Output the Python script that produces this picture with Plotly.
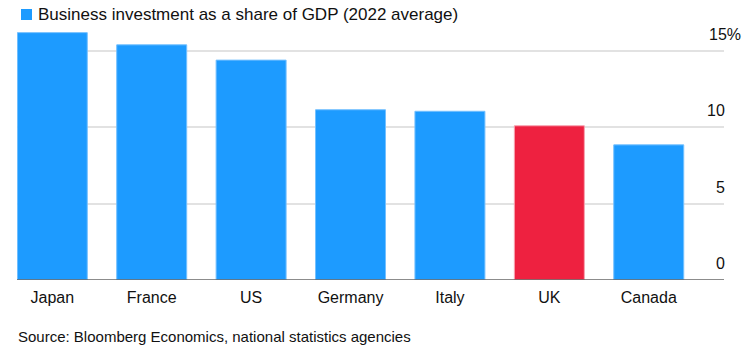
import plotly.graph_objects as go

countries = ["Japan", "France", "US", "Germany", "Italy", "UK", "Canada"]
values = [16.2, 15.4, 14.4, 11.15, 11.05, 10.1, 8.85]
bar_colors = ["#1D9BFF", "#1D9BFF", "#1D9BFF", "#1D9BFF", "#1D9BFF", "#EE2140", "#1D9BFF"]
edge_colors = ["#74C0FF", "#74C0FF", "#74C0FF", "#74C0FF", "#74C0FF", "#F7A3B0", "#74C0FF"]
y_tick_vals = [0, 5, 10, 15]
y_tick_text = ["0", "5", "10", "15%"]
legend_label = "Business investment as a share of GDP (2022 average)"
source_text = "Source: Bloomberg Economics, national statistics agencies"

W, H = 751, 362
L, R, T, B = 17, 27, 25, 82
pw, ph = W - L - R, H - T - B
FONT = "Liberation Sans, Arial, sans-serif"

def px_x(x):
    return (x - L) / pw

def px_y(y):
    return (H - B - y) / ph

fig = go.Figure()
fig.add_trace(go.Bar(
    x=countries, y=values,
    marker=dict(color=bar_colors, line=dict(color=edge_colors, width=1)),
    showlegend=False,
))

annotations = []
for v, t in zip(y_tick_vals, y_tick_text):
    # numbers right-aligned at x=725; a trailing "%" hangs past that edge
    if t.endswith("%"):
        annotations.append(dict(x=px_x(709), xref="paper", y=v, yref="y", text=t,
                                showarrow=False, xanchor="left", yanchor="bottom",
                                yshift=6, xshift=-2, font=dict(family=FONT, size=16, color="#111")))
    else:
        annotations.append(dict(x=px_x(725), xref="paper", y=v, yref="y", text=t,
                                showarrow=False, xanchor="right", yanchor="bottom",
                                yshift=6, xshift=2, font=dict(family=FONT, size=16, color="#111")))
annotations.append(dict(x=px_x(36), xref="paper", y=px_y(14.5), yref="paper",
                        text=legend_label, showarrow=False, xanchor="left", yanchor="middle",
                        font=dict(family=FONT, size=17, color="#111")))
annotations.append(dict(x=px_x(16), xref="paper", y=px_y(336), yref="paper",
                        text=source_text, showarrow=False, xanchor="left", yanchor="middle",
                        font=dict(family=FONT, size=15, color="#111")))

shapes = [
    dict(type="rect", xref="paper", yref="paper",
         x0=px_x(21), x1=px_x(32), y0=px_y(20), y1=px_y(9),
         fillcolor="#1D9BFF", line=dict(width=0)),
    dict(type="line", xref="paper", yref="y", x0=0, x1=1, y0=0, y1=0,
         line=dict(color="#666666", width=1.5)),
]

fig.update_layout(
    width=W, height=H,
    margin=dict(l=L, r=R, t=T, b=B, pad=0),
    paper_bgcolor="white", plot_bgcolor="white",
    bargap=0.296,
    annotations=annotations,
    shapes=shapes,
    font=dict(family=FONT, size=16, color="#111"),
)
fig.update_xaxes(range=[-0.355, 6.757], showgrid=False, zeroline=False,
                 showline=False, ticks="outside", ticklen=3, tickcolor="rgba(0,0,0,0)",
                 tickfont=dict(family=FONT, size=16, color="#111"), fixedrange=True)
fig.update_yaxes(range=[0, ph / 15.27], tickvals=y_tick_vals, showticklabels=False,
                 showgrid=True, gridcolor="#E2E2E2", gridwidth=1.5, zeroline=False,
                 showline=False, fixedrange=True)

fig.write_html("out.html", config={"displayModeBar": False},
               post_script="document.body.style.margin='0';document.body.style.padding='0';")
